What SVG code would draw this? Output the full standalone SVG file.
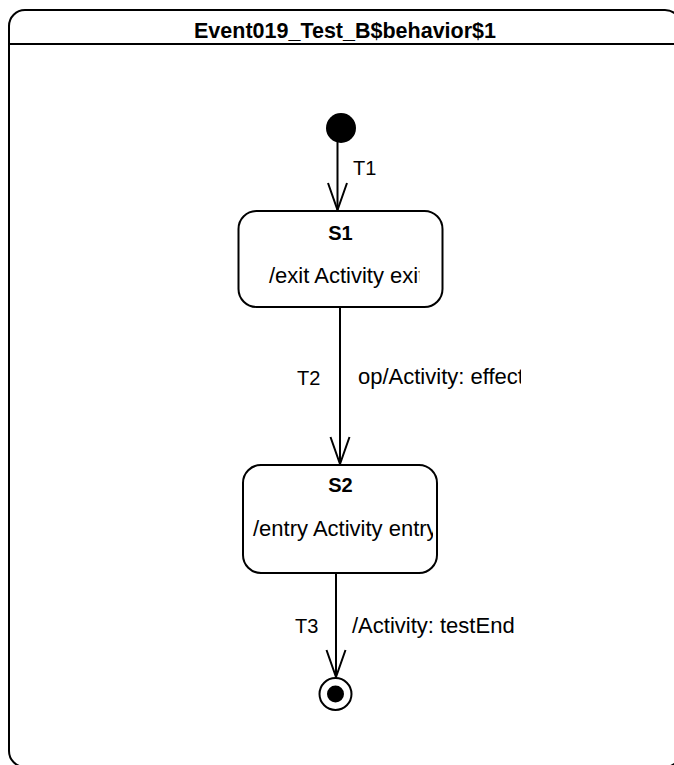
<svg xmlns="http://www.w3.org/2000/svg" width="674" height="765" viewBox="0 0 674 765">
<style>
text{font-family:"Liberation Sans",Arial,sans-serif;fill:#000}
.title{font-size:21.5px;font-weight:bold}
.name{font-size:20px;font-weight:bold}
.act{font-size:22px}
.tl{font-size:20px}
.box{fill:#fff;stroke:#000;stroke-width:2}
.edge{fill:none;stroke:#000;stroke-width:2}
</style>
<defs>
<marker id="open" markerUnits="userSpaceOnUse" markerWidth="40" markerHeight="40" refX="0" refY="0" orient="auto" overflow="visible">
<path d="M-27,-9.5 L0,0 L-27,9.5" fill="none" stroke="#000" stroke-width="2"/>
</marker>
<clipPath id="c1"><rect x="240" y="250" width="179.5" height="50"/></clipPath>
<clipPath id="c2"><rect x="245" y="505" width="188" height="50"/></clipPath>
<clipPath id="c3"><rect x="350" y="355" width="171" height="40"/></clipPath>
</defs>
<g id="frame">
<rect x="9" y="10" width="672" height="757" rx="16" ry="16" fill="#fff" stroke="#000" stroke-width="2"/>
<line x1="9" y1="44" x2="681" y2="44" stroke="#000" stroke-width="2"/>
<text class="title" x="345" y="38" text-anchor="middle">Event019_Test_B$behavior$1</text>
</g>
<g id="connectors">
<g id="T1">
<path class="edge" d="M337.5,142 L337.5,210" marker-end="url(#open)"/>
<text class="tl" x="353" y="175">T1</text>
</g>
<g id="T2">
<path class="edge" d="M340,307 L340,464" marker-end="url(#open)"/>
<text class="tl" x="297" y="385">T2</text>
<text class="act" x="358" y="384" clip-path="url(#c3)">op/Activity: effect</text>
</g>
<g id="T3">
<path class="edge" d="M336,573 L336,677" marker-end="url(#open)"/>
<text class="tl" x="295" y="633">T3</text>
<text class="act" x="352" y="633">/Activity: testEnd</text>
</g>
</g>
<g id="initial">
<circle cx="341" cy="128" r="15" fill="#000"/>
</g>
<g id="S1">
<rect class="box" x="238.5" y="211" width="204" height="96" rx="18" ry="18"/>
<text class="name" x="340.5" y="240" text-anchor="middle">S1</text>
<text class="act" x="269" y="283" clip-path="url(#c1)">/exit Activity exit</text>
</g>
<g id="S2">
<rect class="box" x="243" y="465" width="194" height="108" rx="18" ry="18"/>
<text class="name" x="340.5" y="492" text-anchor="middle">S2</text>
<text class="act" x="253" y="536" clip-path="url(#c2)">/entry Activity entry</text>
</g>
<g id="final">
<circle cx="335.5" cy="694" r="16" fill="#fff" stroke="#000" stroke-width="2"/>
<circle cx="335.5" cy="694" r="8.5" fill="#000"/>
</g>
</svg>
